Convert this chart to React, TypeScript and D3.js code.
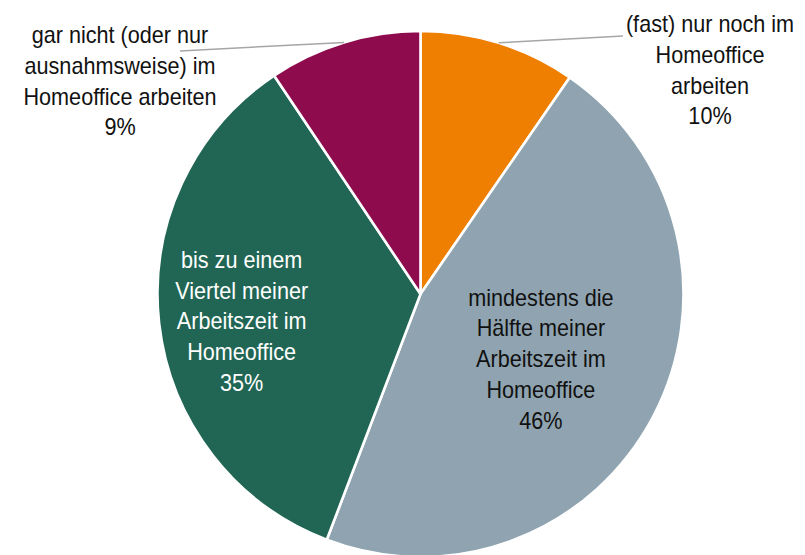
import React from 'react'
import * as d3 from 'd3'

const categories = [
  '(fast) nur noch im Homeoffice arbeiten',
  'mindestens die Hälfte meiner Arbeitszeit im Homeoffice',
  'bis zu einem Viertel meiner Arbeitszeit im Homeoffice',
  'gar nicht (oder nur ausnahmsweise) im Homeoffice arbeiten',
]
const shares = [9.6, 46.2, 34.8, 9.4]
const percentLabels = ['10%', '46%', '35%', '9%']
const labelLines = [
  ['(fast) nur noch im', 'Homeoffice', 'arbeiten'],
  ['mindestens die', 'Hälfte meiner', 'Arbeitszeit im', 'Homeoffice'],
  ['bis zu einem', 'Viertel meiner', 'Arbeitszeit im', 'Homeoffice'],
  ['gar nicht (oder nur', 'ausnahmsweise) im', 'Homeoffice arbeiten'],
]
const colors = ['#EF7F00', '#8FA4B0', '#216654', '#8E0C4E']
const textColors = ['#111', '#111', '#fff', '#111']

const width = 805
const height = 555
const cx = 420.5
const cy = 294
const radius = 263
const lineHeight = 30.8
const fontSize = 23
const squeeze = 0.94

// where each label sits: inside ones use a radius along the slice mid angle,
// outside ones get a fixed text spot plus a leader line
const labelPlacement = [
  {outside: true, x: 710, y: 32, lineEnd: [623, 36]},
  {outside: false, r: 136, dy: 3},
  {outside: false, r: 180, dy: 8},
  {outside: true, x: 120, y: 43, lineEnd: [180, 51]},
]

const Label = ({x, y, lines, color}) => (
  <g transform={`translate(${x} 0) scale(${squeeze} 1)`}>
    <text textAnchor="middle" fill={color}>
      {lines.map((t, j) => (
        <tspan key={j} x={0} y={y + j * lineHeight}>
          {t}
        </tspan>
      ))}
    </text>
  </g>
)

const App = () => {
  const pie = d3
    .pie<number>()
    .value(d => d)
    .sort(null)
  const arcs = pie(shares)
  const createArc = d3
    .arc<d3.PieArcDatum<number>>()
    .innerRadius(0)
    .outerRadius(radius)
  const edgeArc = d3
    .arc<d3.PieArcDatum<number>>()
    .innerRadius(radius)
    .outerRadius(radius)

  return (
    <svg
      width={width}
      height={height}
      style={{position: 'absolute', left: 0, top: 0, background: '#fff'}}
      fontFamily="'Liberation Sans', Arial, sans-serif"
      fontSize={fontSize}
    >
      <g transform={`translate(${cx} ${cy})`}>
        {arcs.map((d, i) => (
          <path
            key={categories[i]}
            d={createArc(d) || ''}
            fill={colors[i]}
            stroke="#fff"
            strokeWidth={2.6}
            strokeLinejoin="round"
          />
        ))}
      </g>
      {arcs.map((d, i) => {
        const place = labelPlacement[i]
        const lines = [...labelLines[i], percentLabels[i]]
        if (place.outside) {
          const [ex, ey] = edgeArc.centroid(d)
          return (
            <g key={categories[i]}>
              <line
                x1={cx + ex}
                y1={cy + ey}
                x2={place.lineEnd[0]}
                y2={place.lineEnd[1]}
                stroke="#a6a6a6"
                strokeWidth={1.5}
              />
              <Label x={place.x} y={place.y} lines={lines} color={textColors[i]} />
            </g>
          )
        }
        const [lx, ly] = d3
          .arc<d3.PieArcDatum<number>>()
          .innerRadius(place.r)
          .outerRadius(place.r)
          .centroid(d)
        const top = cy + ly - ((lines.length - 1) * lineHeight) / 2 + 7 + place.dy
        return (
          <Label
            key={categories[i]}
            x={cx + lx}
            y={top}
            lines={lines}
            color={textColors[i]}
          />
        )
      })}
    </svg>
  )
}

export default App
